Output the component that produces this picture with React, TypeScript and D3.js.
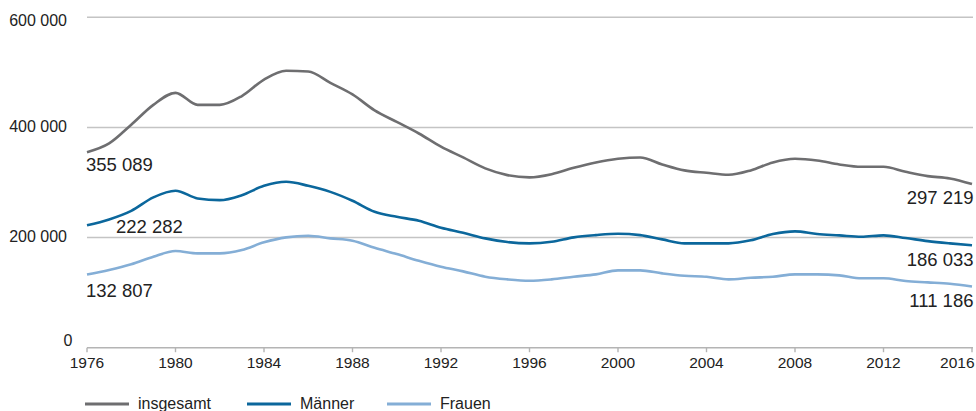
import React from "react";
import * as d3 from "d3";

const years: number[] = d3.range(1976, 2017);

const insgesamt: number[] = [
  355089, 371000, 405000, 441000, 462800, 441000, 441000, 457000, 487000, 503000,
  501600, 481000, 460000, 431000, 410000, 389000, 365000, 345500, 325600, 313400,
  309300, 315000, 326700, 336400, 343000, 345500, 332800, 322000, 317600, 314000,
  322000, 336400, 343000, 340000, 332800, 328500, 328500, 319400, 311600, 307400,
  297219,
];

const maenner: number[] = [
  222282, 233000, 248600, 273000, 285000, 271100, 268000, 277000, 294000, 301300,
  294000, 283000, 266800, 246800, 237700, 230500, 217800, 208700, 198500, 191800,
  189500, 192400, 200400, 204500, 206900, 204500, 196700, 189500, 189500, 189500,
  195000, 206400, 211200, 206400, 204000, 201500, 204000, 199100, 193600, 189500,
  186033,
];

const frauen: number[] = [
  132807, 141000, 151400, 165200, 175500, 171300, 171300, 177300, 191300, 200400,
  203300, 198500, 194200, 181500, 170100, 157900, 147000, 138600, 128900, 124100,
  121600, 124100, 128900, 133200, 140500, 140500, 135000, 130700, 128900, 124100,
  127000, 128900, 133200, 133200, 131400, 126000, 126000, 121000, 118700, 116200,
  111186,
];

const seriesNames: string[] = ["insgesamt", "Männer", "Frauen"];
const seriesColors: string[] = ["#6e6e70", "#0b679c", "#84aed6"];
const yTicks: number[] = [0, 200000, 400000, 600000];
const xTicks: number[] = [1976, 1980, 1984, 1988, 1992, 1996, 2000, 2004, 2008, 2012, 2016];

const fmt = (v: number) => d3.format(",")(v).replace(/,/g, " ");

export default function App() {
  const W = 976;
  const H = 411;
  const x = d3.scaleLinear().domain([1976, 2016]).range([87, 972]);
  const y = d3.scaleLinear().domain([0, 600000]).range([347.7, 17.3]);
  const seriesData = [insgesamt, maenner, frauen];
  const line = d3
    .line<number>()
    .x((_, i) => x(years[i]))
    .y((d) => y(d))
    .curve(d3.curveMonotoneX);

  const textColor = "#222";
  const font = "Arial, 'Liberation Sans', Helvetica, sans-serif";

  const labels = [
    { s: 0, end: false, dx: -1, dy: 19, anchor: "start" },
    { s: 1, end: false, dx: 29, dy: 7.5, anchor: "start" },
    { s: 2, end: false, dx: -1, dy: 22, anchor: "start" },
    { s: 0, end: true, dx: 1.5, dy: 19.5, anchor: "end" },
    { s: 1, end: true, dx: 1.5, dy: 20.5, anchor: "end" },
    { s: 2, end: true, dx: 1.5, dy: 20.5, anchor: "end" },
  ];

  const legendX = [85, 247, 387];
  const lastTick = xTicks[xTicks.length - 1];

  return (
    <svg
      width={W}
      height={H}
      style={{ position: "absolute", left: 0, top: 0, background: "#fff" }}
      fontFamily={font}
    >
      {yTicks.map((t) =>
        t === 0 ? null : (
          <line key={"g" + t} x1={87} x2={973} y1={y(t)} y2={y(t)} stroke="#c4c4c4" strokeWidth={1.6} />
        )
      )}
      {yTicks.map((t) => (
        <text
          key={"yt" + t}
          x={t === 0 ? 72.5 : 67}
          y={t === 0 ? y(t) - 1.5 : Math.max(y(t) + 4.5, 25.5)}
          textAnchor="end"
          fontSize={16}
          fill={textColor}
        >
          {fmt(t)}
        </text>
      ))}
      <line x1={87} x2={973} y1={y(0)} y2={y(0)} stroke="#b4b4b4" strokeWidth={1.6} />
      {xTicks.map((t) => (
        <g key={"xt" + t}>
          <line x1={x(t)} x2={x(t)} y1={y(0)} y2={y(0) + 4.5} stroke="#b4b4b4" strokeWidth={1.4} />
          <text
            x={t === lastTick ? x(t) + 2.5 : x(t)}
            y={367.5}
            textAnchor={t === lastTick ? "end" : "middle"}
            fontSize={15.5}
            fill={textColor}
          >
            {t}
          </text>
        </g>
      ))}
      {seriesData.map((d, i) => (
        <path
          key={"s" + i}
          d={line(d) || ""}
          fill="none"
          stroke={seriesColors[i]}
          strokeWidth={2.6}
          strokeLinejoin="round"
        />
      ))}
      {labels.map((l, k) => {
        const d = seriesData[l.s];
        const idx = l.end ? d.length - 1 : 0;
        return (
          <text
            key={"l" + k}
            x={x(years[idx]) + l.dx}
            y={y(d[idx]) + l.dy}
            textAnchor={l.anchor as any}
            fontSize={18.5}
            fill={textColor}
          >
            {fmt(d[idx])}
          </text>
        );
      })}
      {seriesNames.map((n, i) => (
        <g key={"lg" + i}>
          <line
            x1={legendX[i]}
            x2={legendX[i] + 44}
            y1={404}
            y2={404}
            stroke={seriesColors[i]}
            strokeWidth={2.8}
          />
          <text x={legendX[i] + 53} y={408.5} fontSize={16} fill={textColor}>
            {n}
          </text>
        </g>
      ))}
    </svg>
  );
}
